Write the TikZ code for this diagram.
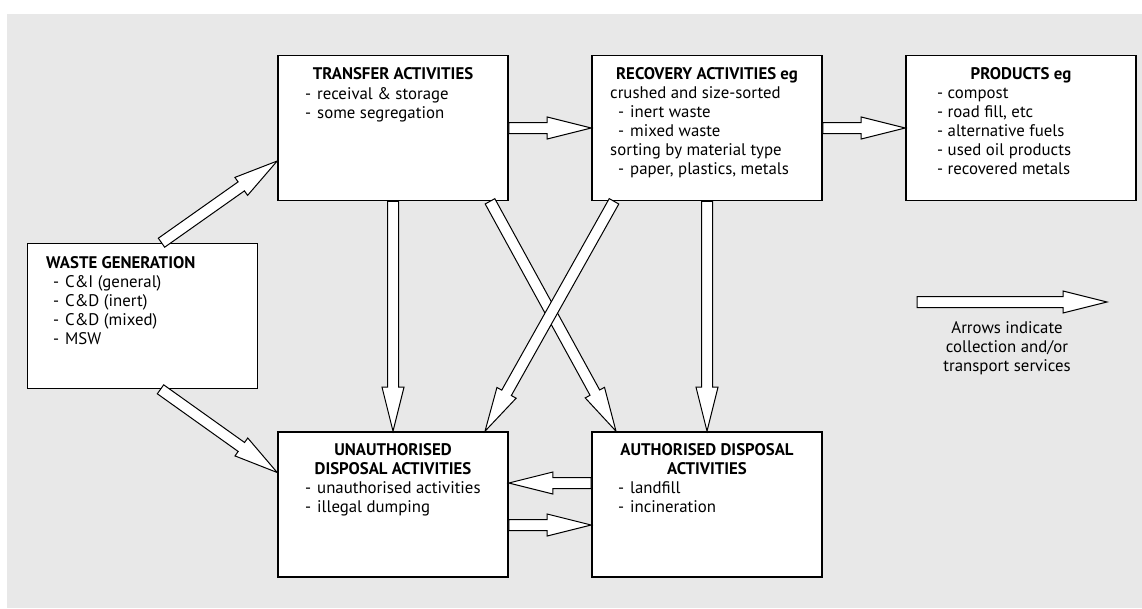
\documentclass[tikz,border=0pt]{standalone}
\usepackage{fontspec}
\setmainfont{PT Sans}
\usetikzlibrary{calc}
\definecolor{bggray}{RGB}{232,232,232}
\tikzset{
  box/.style={draw, line width=1.6pt, fill=white, minimum width=230pt, minimum height=145pt, inner sep=0pt},
  ttl/.style={font=\bfseries\fontsize{16.8}{19}\selectfont, inner sep=0pt, anchor=base},
  ttlw/.style={font=\bfseries\fontsize{16.8}{19}\selectfont, inner sep=0pt, anchor=base west},
  txt/.style={font=\fontsize{16.8}{19}\selectfont, inner sep=0pt, anchor=base west},
  txtc/.style={font=\fontsize{16.8}{19}\selectfont, inner sep=0pt, anchor=base},
  blockarrow/.style={draw, line width=1pt, fill=white, line join=miter},
}
\newcommand\itm[1]{\makebox[12pt][l]{-}#1}
\newcommand\barrow[2]{%
  \coordinate (ba-h) at ($(#2)!44pt!(#1)$);
  \draw[blockarrow] ($(#1)!5.5pt!90:(#2)$) -- ($(ba-h)!5.5pt!90:(#2)$) -- ($(ba-h)!11pt!90:(#2)$) -- (#2)
    -- ($(ba-h)!11pt!-90:(#2)$) -- ($(ba-h)!5.5pt!-90:(#2)$) -- ($(#1)!5.5pt!-90:(#2)$) -- cycle;
}
\begin{document}
\begin{tikzpicture}[x=1pt,y=-1pt]
\useasboundingbox (0,0) rectangle (1142,608);
\fill[bggray] (7,14) rectangle (1142,608);

% boxes
\node[box] (trans) at (393,128) {};
\node[box] (recov) at (707,128) {};
\node[box] (prod) at (1021,128) {};
\node[box] (waste) at (142.5,316) {};
\node[box] (unauth) at (393,504.5) {};
\node[box] (auth) at (707,504.5) {};

% texts
\node[ttl] (t-ti) at (393,79) {TRANSFER ACTIVITIES};
\node[txt] (t-1) at (305,99) {\itm{receival \& storage}};
\node[txt] (t-2) at (305,118) {\itm{some segregation}};

\node[ttl] (r-ti) at (707,79) {RECOVERY ACTIVITIES eg};
\node[txt] (r-1) at (610,98) {crushed and size-sorted};
\node[txt] (r-2) at (618,117) {\itm{inert waste}};
\node[txt] (r-3) at (618,136) {\itm{mixed waste}};
\node[txt] (r-4) at (610,155) {sorting by material type};
\node[txt] (r-5) at (618,174) {\itm{paper, plastics, metals}};

\node[ttl] (p-ti) at (1021,79) {PRODUCTS eg};
\node[txt] (p-1) at (937,98) {- compost};
\node[txt] (p-2) at (937,117) {- road fill, etc};
\node[txt] (p-3) at (937,136) {- alternative fuels};
\node[txt] (p-4) at (937,155) {- used oil products};
\node[txt] (p-5) at (937,174) {- recovered metals};

\node[ttlw] (w-ti) at (46,268) {WASTE GENERATION};
\node[txt] (w-1) at (53,287) {\itm{C\&I (general)}};
\node[txt] (w-2) at (53,306) {\itm{C\&D (inert)}};
\node[txt] (w-3) at (53,325) {\itm{C\&D (mixed)}};
\node[txt] (w-4) at (53,344) {\itm{MSW}};

\node[ttl] (u-ti1) at (393,455) {UNAUTHORISED};
\node[ttl] (u-ti2) at (393,474) {DISPOSAL ACTIVITIES};
\node[txt] (u-1) at (305,493) {\itm{unauthorised activities}};
\node[txt] (u-2) at (305,512) {\itm{illegal dumping}};

\node[ttl] (a-ti1) at (707,455) {AUTHORISED DISPOSAL};
\node[ttl] (a-ti2) at (707,474) {ACTIVITIES};
\node[txt] (a-1) at (618,493) {\itm{landfill}};
\node[txt] (a-2) at (618,512) {\itm{incineration}};

\node[txtc] (lg-1) at (1007,333) {Arrows indicate};
\node[txtc] (lg-2) at (1007,352) {collection and/or};
\node[txtc] (lg-3) at (1007,371) {transport services};

% arrow end points
\coordinate (wt-a) at ($(waste.north)+(19,0)$);
\coordinate (wt-b) at ($(trans.west)+(0,33)$);
\coordinate (wu-a) at ($(waste.south)+(18,0)$);
\coordinate (wu-b) at ($(unauth.west)+(0,-32)$);
\coordinate (ta-a) at ($(trans.south)+(97,0)$);
\coordinate (ta-b) at ($(auth.north)+(-91,0)$);
\coordinate (ru-a) at ($(recov.south)+(-93,0)$);
\coordinate (ru-b) at ($(unauth.north)+(92,0)$);
\coordinate (au-a) at ($(auth.west)+(0,-21.5)$);
\coordinate (au-b) at ($(unauth.east)+(0,-21.5)$);
\coordinate (ua-a) at ($(unauth.east)+(0,20.5)$);
\coordinate (ua-b) at ($(auth.west)+(0,20.5)$);
\coordinate (lg-a) at (917,302);
\coordinate (lg-b) at (1107,302);

% arrows
\barrow{wt-a}{wt-b}
\barrow{wu-a}{wu-b}
\barrow{trans.east}{recov.west}
\barrow{recov.east}{prod.west}
\barrow{trans.south}{unauth.north}
\barrow{ta-a}{ta-b}
\barrow{ru-a}{ru-b}
\barrow{recov.south}{auth.north}
\barrow{au-a}{au-b}
\barrow{ua-a}{ua-b}
\barrow{lg-a}{lg-b}
\end{tikzpicture}
\end{document}
